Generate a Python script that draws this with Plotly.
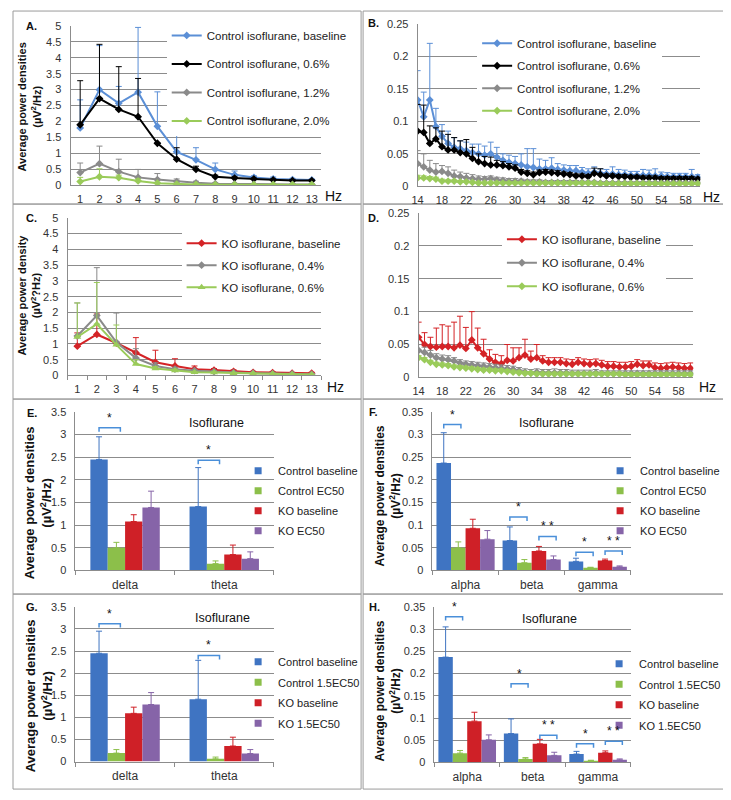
import plotly.graph_objects as go

# reference picture size; the page body adds an 8 px margin, so the figure is
# drawn 8 px smaller and every reference pixel position is shifted by 8
REF_W, REF_H = 731, 800
OFF = 8
W, H = REF_W - OFF, REF_H - OFF
FONT = "Liberation Sans, Arial, sans-serif"

# ---------------- data ----------------
hz_low = list(range(1, 14))
hz_high = list(range(14, 61))
hz_high_ticks = list(range(14, 59, 4))

# Panel A (Control, 1-13 Hz)
A_names = ["Control isoflurane, baseline", "Control isoflurane, 0.6%",
           "Control isoflurane, 1.2%", "Control isoflurane, 2.0%"]
A_base = [1.80, 3.00, 2.57, 2.92, 1.85, 1.05, 0.80, 0.50, 0.33, 0.25, 0.20, 0.18, 0.17]
A_base_top = [2.68, 4.38, 3.10, 4.95, 2.93, 1.57, 1.18, 0.70, 0.45, 0.30, 0.26, 0.22, 0.20]
A_06 = [1.90, 2.72, 2.38, 2.15, 1.32, 0.82, 0.50, 0.27, 0.23, 0.20, 0.17, 0.15, 0.15]
A_06_top = [3.28, 4.42, 3.72, 3.35, 1.32, 1.18, 0.60, 0.32, 0.27, 0.23, 0.20, 0.18, 0.17]
A_12 = [0.40, 0.68, 0.43, 0.25, 0.18, 0.12, 0.08, 0.05, 0.04, 0.03, 0.03, 0.03, 0.03]
A_12_top = [0.70, 1.23, 0.82, 0.50, 0.37, 0.20, 0.13, 0.08, 0.06, 0.05, 0.04, 0.04, 0.04]
A_20 = [0.12, 0.27, 0.24, 0.14, 0.07, 0.04, 0.03, 0.02, 0.02, 0.02, 0.02, 0.02, 0.02]
A_20_top = [0.25, 0.52, 0.32, 0.20, 0.10, 0.06, 0.04, 0.03, 0.03, 0.03, 0.03, 0.03, 0.03]

# Panel B (Control, 14-60 Hz)
B_base = [0.133, 0.107, 0.133, 0.092, 0.077, 0.066, 0.060, 0.058, 0.055, 0.052,
          0.050, 0.048, 0.050, 0.045, 0.040, 0.037, 0.035, 0.033, 0.030, 0.029,
          0.027, 0.027, 0.028, 0.026, 0.025, 0.024, 0.024, 0.022, 0.020, 0.022,
          0.020, 0.019, 0.019, 0.018, 0.018, 0.017, 0.017, 0.017, 0.017, 0.016,
          0.016, 0.015, 0.015, 0.015, 0.015, 0.015, 0.014]
B_base_top = [0.178, 0.145, 0.220, 0.120, 0.095, 0.085, 0.075, 0.070, 0.068, 0.065,
              0.065, 0.062, 0.068, 0.060, 0.050, 0.048, 0.046, 0.050, 0.058, 0.058,
              0.042, 0.040, 0.044, 0.035, 0.033, 0.032, 0.032, 0.029, 0.027, 0.030,
              0.027, 0.026, 0.030, 0.026, 0.025, 0.023, 0.023, 0.026, 0.025, 0.027,
              0.022, 0.021, 0.020, 0.020, 0.020, 0.026, 0.018]
B_06 = [0.085, 0.083, 0.066, 0.073, 0.061, 0.056, 0.056, 0.052, 0.050, 0.043,
        0.038, 0.035, 0.033, 0.033, 0.032, 0.030, 0.028, 0.022, 0.020, 0.018,
        0.021, 0.022, 0.021, 0.020, 0.019, 0.018, 0.016, 0.016, 0.015, 0.020,
        0.018, 0.016, 0.016, 0.015, 0.015, 0.014, 0.014, 0.013, 0.013, 0.013,
        0.012, 0.012, 0.012, 0.012, 0.012, 0.012, 0.011]
B_06_top = [0.126, 0.125, 0.093, 0.090, 0.085, 0.080, 0.075, 0.070, 0.072, 0.060,
            0.050, 0.046, 0.045, 0.040, 0.038, 0.035, 0.033, 0.026, 0.024, 0.022,
            0.025, 0.026, 0.025, 0.024, 0.022, 0.021, 0.019, 0.019, 0.018, 0.028,
            0.027, 0.019, 0.019, 0.018, 0.018, 0.017, 0.017, 0.016, 0.016, 0.016,
            0.015, 0.015, 0.015, 0.015, 0.015, 0.015, 0.014]
B_12 = [0.035, 0.030, 0.025, 0.022, 0.023, 0.020, 0.016, 0.015, 0.013, 0.012,
        0.011, 0.011, 0.012, 0.010, 0.009, 0.008, 0.008, 0.008, 0.007, 0.007,
        0.007, 0.006, 0.006, 0.006, 0.006, 0.006, 0.006, 0.006, 0.006, 0.006,
        0.005, 0.005, 0.005, 0.005, 0.005, 0.005, 0.005, 0.005, 0.005, 0.005,
        0.005, 0.005, 0.005, 0.005, 0.005, 0.005, 0.005]
B_12_top = [0.055, 0.050, 0.040, 0.035, 0.032, 0.030, 0.025, 0.022, 0.020, 0.018,
            0.016, 0.015, 0.016, 0.014, 0.013, 0.012, 0.012, 0.011, 0.010, 0.010,
            0.010, 0.009, 0.009, 0.009, 0.009, 0.009, 0.009, 0.008, 0.008, 0.008,
            0.007, 0.007, 0.007, 0.007, 0.007, 0.007, 0.007, 0.007, 0.007, 0.007,
            0.007, 0.007, 0.007, 0.007, 0.007, 0.007, 0.007]
B_20 = [0.013, 0.013, 0.012, 0.011, 0.008, 0.008, 0.008, 0.007, 0.007, 0.006,
        0.005, 0.005, 0.005, 0.005, 0.005, 0.005, 0.005, 0.005, 0.005, 0.005,
        0.005, 0.005, 0.005, 0.005, 0.005, 0.005, 0.005, 0.005, 0.005, 0.005,
        0.004, 0.004, 0.004, 0.004, 0.004, 0.004, 0.004, 0.004, 0.004, 0.004,
        0.004, 0.004, 0.004, 0.004, 0.004, 0.004, 0.004]
B_20_top = [0.017, 0.016, 0.015, 0.014, 0.011, 0.010, 0.010, 0.009, 0.009, 0.008,
            0.007, 0.007, 0.007, 0.007, 0.007, 0.007, 0.007, 0.007, 0.007, 0.007,
            0.007, 0.007, 0.007, 0.007, 0.007, 0.007, 0.007, 0.007, 0.007, 0.007,
            0.006, 0.006, 0.006, 0.006, 0.006, 0.006, 0.006, 0.006, 0.006, 0.006,
            0.006, 0.006, 0.006, 0.006, 0.006, 0.006, 0.006]

# Panel C (KO, 1-13 Hz)
C_names = ["KO isoflurane, baseline", "KO isoflurane, 0.4%", "KO isoflurane, 0.6%"]
C_base = [0.93, 1.30, 1.03, 0.72, 0.42, 0.30, 0.20, 0.17, 0.13, 0.10, 0.09, 0.07, 0.07]
C_base_top = [1.35, 1.95, 1.05, 1.20, 0.80, 0.53, 0.30, 0.22, 0.18, 0.13, 0.11, 0.09, 0.10]
C_04 = [1.25, 1.90, 1.05, 0.55, 0.30, 0.20, 0.15, 0.12, 0.09, 0.07, 0.06, 0.05, 0.04]
C_04_top = [2.30, 3.42, 1.98, 0.85, 0.40, 0.26, 0.19, 0.15, 0.11, 0.09, 0.07, 0.06, 0.05]
C_06 = [1.22, 1.63, 0.97, 0.36, 0.22, 0.16, 0.10, 0.09, 0.07, 0.06, 0.05, 0.04, 0.03]
C_06_top = [2.30, 2.95, 1.60, 0.50, 0.28, 0.20, 0.13, 0.11, 0.09, 0.07, 0.06, 0.05, 0.04]

# Panel D (KO, 14-60 Hz)
D_base = [0.061, 0.050, 0.047, 0.046, 0.047, 0.047, 0.045, 0.049, 0.044, 0.057,
          0.045, 0.036, 0.028, 0.023, 0.021, 0.026, 0.025, 0.030, 0.034, 0.028,
          0.030, 0.025, 0.023, 0.023, 0.023, 0.021, 0.020, 0.023, 0.021, 0.020,
          0.021, 0.019, 0.017, 0.017, 0.016, 0.016, 0.017, 0.020, 0.018, 0.019,
          0.015, 0.014, 0.015, 0.016, 0.015, 0.014, 0.014]
D_base_top = [0.084, 0.068, 0.061, 0.075, 0.080, 0.078, 0.084, 0.093, 0.076, 0.100,
              0.075, 0.058, 0.042, 0.035, 0.033, 0.050, 0.045, 0.045, 0.058, 0.040,
              0.050, 0.033, 0.030, 0.030, 0.030, 0.028, 0.027, 0.030, 0.028, 0.027,
              0.028, 0.026, 0.024, 0.024, 0.023, 0.023, 0.024, 0.027, 0.025, 0.025,
              0.022, 0.021, 0.022, 0.023, 0.022, 0.021, 0.022]
D_04 = [0.041, 0.038, 0.034, 0.030, 0.028, 0.027, 0.025, 0.022, 0.020, 0.019,
        0.018, 0.017, 0.016, 0.015, 0.014, 0.013, 0.012, 0.010, 0.008, 0.007,
        0.008, 0.007, 0.007, 0.007, 0.007, 0.007, 0.006, 0.006, 0.006, 0.006,
        0.007, 0.006, 0.006, 0.006, 0.006, 0.006, 0.006, 0.006, 0.006, 0.006,
        0.006, 0.006, 0.006, 0.006, 0.006, 0.006, 0.006]
D_04_top = [0.050, 0.046, 0.041, 0.036, 0.034, 0.033, 0.030, 0.027, 0.025, 0.024,
            0.023, 0.022, 0.021, 0.020, 0.019, 0.018, 0.017, 0.015, 0.013, 0.012,
            0.013, 0.012, 0.012, 0.013, 0.012, 0.012, 0.011, 0.011, 0.011, 0.011,
            0.012, 0.010, 0.010, 0.010, 0.010, 0.010, 0.010, 0.010, 0.010, 0.010,
            0.010, 0.010, 0.010, 0.010, 0.010, 0.010, 0.010]
D_06 = [0.030, 0.027, 0.023, 0.020, 0.019, 0.018, 0.016, 0.015, 0.014, 0.013,
        0.012, 0.011, 0.011, 0.010, 0.010, 0.009, 0.008, 0.007, 0.006, 0.006,
        0.005, 0.005, 0.005, 0.005, 0.005, 0.005, 0.005, 0.005, 0.005, 0.005,
        0.005, 0.005, 0.005, 0.005, 0.005, 0.004, 0.004, 0.004, 0.004, 0.004,
        0.004, 0.004, 0.004, 0.004, 0.004, 0.004, 0.004]
D_06_top = [0.033, 0.030, 0.026, 0.023, 0.022, 0.021, 0.019, 0.018, 0.017, 0.016,
            0.015, 0.014, 0.014, 0.013, 0.013, 0.012, 0.011, 0.010, 0.009, 0.009,
            0.008, 0.008, 0.008, 0.008, 0.008, 0.008, 0.008, 0.008, 0.008, 0.008,
            0.008, 0.008, 0.008, 0.008, 0.008, 0.007, 0.007, 0.007, 0.007, 0.007,
            0.007, 0.007, 0.007, 0.007, 0.007, 0.007, 0.007]

# Bar panels
low_bands = ["delta", "theta"]
high_bands = ["alpha", "beta", "gamma"]
EF_names = ["Control baseline", "Control EC50", "KO baseline", "KO EC50"]
GH_names = ["Control baseline", "Control 1.5EC50", "KO baseline", "KO 1.5EC50"]

E_vals = [[2.45, 1.41], [0.50, 0.15], [1.08, 0.35], [1.39, 0.26]]
E_tops = [[2.95, 2.27], [0.62, 0.21], [1.23, 0.56], [1.75, 0.41]]
F_vals = [[0.237, 0.066, 0.020], [0.050, 0.017, 0.006], [0.093, 0.043, 0.022], [0.069, 0.024, 0.008]]
F_tops = [[0.304, 0.096, 0.027], [0.063, 0.024, 0.007], [0.113, 0.053, 0.025], [0.088, 0.032, 0.010]]
G_vals = [[2.45, 1.41], [0.19, 0.06], [1.09, 0.35], [1.29, 0.18]]
G_tops = [[2.95, 2.29], [0.27, 0.10], [1.23, 0.55], [1.56, 0.27]]
H_vals = [[0.237, 0.065, 0.019], [0.021, 0.008, 0.004], [0.093, 0.042, 0.022], [0.051, 0.016, 0.006]]
H_tops = [[0.305, 0.098, 0.025], [0.027, 0.011, 0.005], [0.113, 0.052, 0.026], [0.062, 0.023, 0.008]]

# significance brackets: (band index, bar i, bar j, bracket height, label)
E_sig = [(0, 0, 1, 3.15, "*"), (1, 0, 1, 2.43, "*")]
F_sig = [(0, 0, 1, 0.322, "*"), (1, 0, 1, 0.118, "*"), (1, 2, 3, 0.075, "* *"),
         (2, 0, 1, 0.040, "*"), (2, 2, 3, 0.043, "* *")]
G_sig = [(0, 0, 1, 3.12, "*"), (1, 0, 1, 2.40, "*")]
H_sig = [(0, 0, 1, 0.328, "*"), (1, 0, 1, 0.177, "*"), (1, 2, 3, 0.061, "* *"),
         (2, 0, 1, 0.042, "*"), (2, 2, 3, 0.048, "* *")]

# ---------------- styling ----------------
C_BLUE_L = "#5b8fd6"
C_BLACK = "#000000"
C_GRAY = "#8a8a8a"
C_GREEN_L = "#9acb5a"
C_RED_L = "#d42326"
BAR_COLORS = ["#3f74c2", "#8cbf4a", "#cf2027", "#8664a8"]
GRID = "#8c8c8c"
BRACKET = "#4a8fd9"


def fx(p):
    return (p - OFF) / W


def fy(p):
    return 1 - (p - OFF) / H


def err(vals, tops):
    return [round(max(t - v, 0), 4) for v, t in zip(vals, tops)]


fig = go.Figure()
annotations = []
shapes = []


def axname(n):
    return "" if n == 1 else str(n)


def add_line_panel(n, x, series, legend_id):
    ax = axname(n)
    for name, vals, tops, color, symbol in series:
        fig.add_trace(go.Scatter(
            x=x, y=vals, name=name, mode="lines+markers",
            line=dict(color=color, width=2),
            marker=dict(symbol=symbol, size=6 if symbol == "diamond" else 7, color=color),
            error_y=dict(type="data", symmetric=False, array=err(vals, tops),
                         arrayminus=[0] * len(vals), color=color, thickness=1, width=3),
            xaxis="x" + ax, yaxis="y" + ax, legend=legend_id,
            legendgroup=f"{legend_id}-{name}"))


def add_bar_panel(n, cats, names, vals, tops, sig, legend_id, ymax, box_h, bw):
    ax = axname(n)
    for k, name in enumerate(names):
        fig.add_trace(go.Bar(
            x=list(range(len(cats))), y=vals[k], name=name, showlegend=False,
            width=bw, offset=-2 * bw + k * bw,
            marker=dict(color=BAR_COLORS[k], line=dict(width=0)),
            error_y=dict(type="data", symmetric=False, array=err(vals[k], tops[k]),
                         arrayminus=[0] * len(cats), color=BAR_COLORS[k],
                         thickness=1, width=3),
            xaxis="x" + ax, yaxis="y" + ax))
        fig.add_trace(go.Scatter(
            x=[None], y=[None], mode="markers", name=name,
            marker=dict(symbol="square", size=7, color=BAR_COLORS[k]),
            xaxis="x" + ax, yaxis="y" + ax, legend=legend_id,
            legendgroup=f"{legend_id}-{name}"))
    arm = ymax * 4.0 / box_h
    for cat, i, j, yb, lab in sig:
        x1 = cat - 2 * bw + bw * (i + 0.5)
        x2 = cat - 2 * bw + bw * (j + 0.5) + 0.04
        shapes.append(dict(type="path", xref="x" + ax, yref="y" + ax,
                           path=f"M {x1},{yb - arm} L {x1},{yb} L {x2},{yb} L {x2},{yb - arm}",
                           line=dict(color=BRACKET, width=1.5)))
        annotations.append(dict(x=(x1 + x2) / 2, y=yb, xref="x" + ax, yref="y" + ax,
                                text=lab, showarrow=False, yanchor="bottom",
                                font=dict(size=12, family=FONT, color="#111"),
                                yshift=1))


add_line_panel(1, hz_low, [
    (A_names[0], A_base, A_base_top, C_BLUE_L, "diamond"),
    (A_names[1], A_06, A_06_top, C_BLACK, "diamond"),
    (A_names[2], A_12, A_12_top, C_GRAY, "diamond"),
    (A_names[3], A_20, A_20_top, C_GREEN_L, "diamond")], "legend")
add_line_panel(2, hz_high, [
    (A_names[0], B_base, B_base_top, C_BLUE_L, "diamond"),
    (A_names[1], B_06, B_06_top, C_BLACK, "diamond"),
    (A_names[2], B_12, B_12_top, C_GRAY, "diamond"),
    (A_names[3], B_20, B_20_top, C_GREEN_L, "diamond")], "legend2")
add_line_panel(3, hz_low, [
    (C_names[0], C_base, C_base_top, C_RED_L, "diamond"),
    (C_names[1], C_04, C_04_top, C_GRAY, "diamond"),
    (C_names[2], C_06, C_06_top, C_GREEN_L, "triangle-up")], "legend3")
add_line_panel(4, hz_high, [
    (C_names[0], D_base, D_base_top, C_RED_L, "diamond"),
    (C_names[1], D_04, D_04_top, C_GRAY, "diamond"),
    (C_names[2], D_06, D_06_top, C_GREEN_L, "diamond")], "legend4")

add_bar_panel(5, low_bands, EF_names, E_vals, E_tops, E_sig, "legend5", 3.5, 161, 0.175)
add_bar_panel(6, high_bands, EF_names, F_vals, F_tops, F_sig, "legend6", 0.35, 161, 0.22)
add_bar_panel(7, low_bands, GH_names, G_vals, G_tops, G_sig, "legend7", 3.5, 157, 0.175)
add_bar_panel(8, high_bands, GH_names, H_vals, H_tops, H_sig, "legend8", 0.35, 158, 0.22)

# ---------------- axes ----------------
tickfont = dict(size=11, family=FONT, color="#333")


def yax(top, bot, rng, dtick):
    return dict(domain=[fy(bot), fy(top)], range=rng, dtick=dtick, showgrid=True,
                gridcolor=GRID, gridwidth=1, showline=True, linecolor=GRID,
                zeroline=False, ticks="", tickfont=tickfont, ticklabelstandoff=6,
                fixedrange=True)


def xax(left, right, rng, tickvals, ticktext=None, minor=None, anchor="y", size=11):
    d = dict(domain=[fx(left), fx(right)], range=rng, tickvals=tickvals,
             showgrid=False, showline=True, linecolor=GRID, zeroline=False,
             ticks="", tickfont=dict(size=size, family=FONT, color="#333"),
             anchor=anchor, ticklabelstandoff=3, fixedrange=True)
    if ticktext is not None:
        d["ticktext"] = ticktext
    if minor is not None:
        d["minor"] = dict(ticks="outside", tickvals=minor, ticklen=4,
                          tickcolor=GRID, showgrid=False)
    return d


bound13 = [v + 0.5 for v in range(0, 14)]
layout_axes = dict(
    xaxis=xax(65, 318, [0.5, 13.5], hz_low, anchor="y"),
    yaxis=yax(20, 182, [0, 5], 0.5) | dict(anchor="x"),
    xaxis2=xax(415, 700, [14, 60.4], hz_high_ticks, anchor="y2"),
    yaxis2=yax(18, 183, [0, 0.25], 0.05) | dict(anchor="x2"),
    xaxis3=xax(62, 318, [0.5, 13.5], hz_low, minor=bound13, anchor="y3"),
    yaxis3=yax(215, 375, [0, 5], 0.5) | dict(anchor="x3"),
    xaxis4=xax(416, 693, [14, 60.5], hz_high_ticks, anchor="y4"),
    yaxis4=yax(210, 377, [0, 0.25], 0.05) | dict(anchor="x4"),
    xaxis5=xax(70, 270, [-0.5, 1.5], [0, 1], low_bands, minor=[-0.5, 0.5, 1.5], anchor="y5", size=12),
    yaxis5=yax(412, 573, [0, 3.5], 0.5) | dict(anchor="x5"),
    xaxis6=xax(430, 630, [-0.5, 2.5], [0, 1, 2], high_bands, minor=[-0.5, 0.5, 1.5, 2.5], anchor="y6", size=12),
    yaxis6=yax(412, 573, [0, 0.35], 0.05) | dict(anchor="x6"),
    xaxis7=xax(70, 270, [-0.5, 1.5], [0, 1], low_bands, minor=[-0.5, 0.5, 1.5], anchor="y7", size=12),
    yaxis7=yax(610, 767, [0, 3.5], 0.5) | dict(anchor="x7"),
    xaxis8=xax(432, 630, [-0.5, 2.5], [0, 1, 2], high_bands, minor=[-0.5, 0.5, 1.5, 2.5], anchor="y8", size=12),
    yaxis8=yax(610, 768, [0, 0.35], 0.05) | dict(anchor="x8"),
)


# ---------------- legends ----------------
def leg(text_x, first_y, gap, size, dx, dy, bg="white"):
    return dict(x=fx(text_x - dx), y=fy(first_y - dy), xanchor="left", yanchor="top",
                bgcolor=bg, borderwidth=0, font=dict(size=size, family=FONT, color="#222"),
                tracegroupgap=gap, itemwidth=30, traceorder="grouped")


clear = "rgba(0,0,0,0)"
legends = dict(
    legend=leg(205, 35, 9.5, 11.5, 43, 20),
    legend2=leg(518, 43, 3.5, 11.5, 43, 20),
    legend3=leg(220, 243, 3, 11.5, 43, 17),
    legend4=leg(543, 239, 4.5, 11.5, 43, 17),
    legend5=leg(276, 470, 1, 11, 42, 13, clear),
    legend6=leg(641, 470, 1, 11, 42, 13, clear),
    legend7=leg(276, 664, 1.5, 11, 42, 13, clear),
    legend8=leg(640, 666, 1.5, 11, 42, 13, clear),
)


# ---------------- texts ----------------
def txt(x, y, text, size, bold=False, angle=0, xanchor="center"):
    annotations.append(dict(x=fx(x), y=fy(y), xref="paper", yref="paper", text=text,
                            showarrow=False, textangle=angle, xanchor=xanchor,
                            yanchor="middle",
                            font=dict(size=size, family=FONT, color="#111",
                                      weight="bold" if bold else "normal")))


for lab, x, y in [("A.", 26, 20), ("B.", 371, 17), ("C.", 26, 215), ("D.", 371, 215),
                  ("E.", 26, 413), ("F.", 371, 412), ("G.", 26, 610), ("H.", 372, 610)]:
    txt(x, y, lab, 11, bold=True)

for x, y in [(330, 193), (711, 194), (332, 387), (707, 387)]:
    txt(x, y, "Hz", 14)

txt(23, 102, "Average power densities<br>(µV<sup>2</sup>/Hz)", 11, bold=True, angle=-90)
txt(23, 293, "Average power density<br>(µV<sup>2</sup>?Hz)", 11, bold=True, angle=-90)
txt(33, 504, "Average power densities<br>(µV<sup>2</sup>/Hz)", 13, bold=True, angle=-90)
txt(385, 497, "Average power densities<br>(µV<sup>2</sup>/Hz)", 12, bold=True, angle=-90)
txt(33, 700, "Average power densities<br>(µV<sup>2</sup>/Hz)", 13, bold=True, angle=-90)
txt(385, 695, "Average power densities<br>(µV<sup>2</sup>/Hz)", 12, bold=True, angle=-90)

for x, y in [(212, 423), (545, 423), (218, 621), (548, 622)]:
    txt(x, y, "Isoflurane", 12.5)

# panel frames
for (x0, y0, x1, y1) in [(7, 5, 358, 201), (360, 5, 724, 201),
                         (7, 201, 358, 399), (360, 201, 724, 399),
                         (7, 399, 358, 597), (360, 399, 724, 597),
                         (7, 597, 358, 795), (360, 597, 724, 795)]:
    shapes.append(dict(type="rect", xref="paper", yref="paper",
                       x0=fx(x0), x1=fx(x1), y0=fy(y1), y1=fy(y0),
                       line=dict(color="#9a9a9a", width=1), layer="below"))

fig.update_layout(
    width=W, height=H, margin=dict(l=0, r=0, t=0, b=0),
    paper_bgcolor="white", plot_bgcolor="white",
    barmode="overlay",
    font=dict(family=FONT),
    annotations=annotations, shapes=shapes,
    **layout_axes, **legends,
)

fig.write_html("out.html")
